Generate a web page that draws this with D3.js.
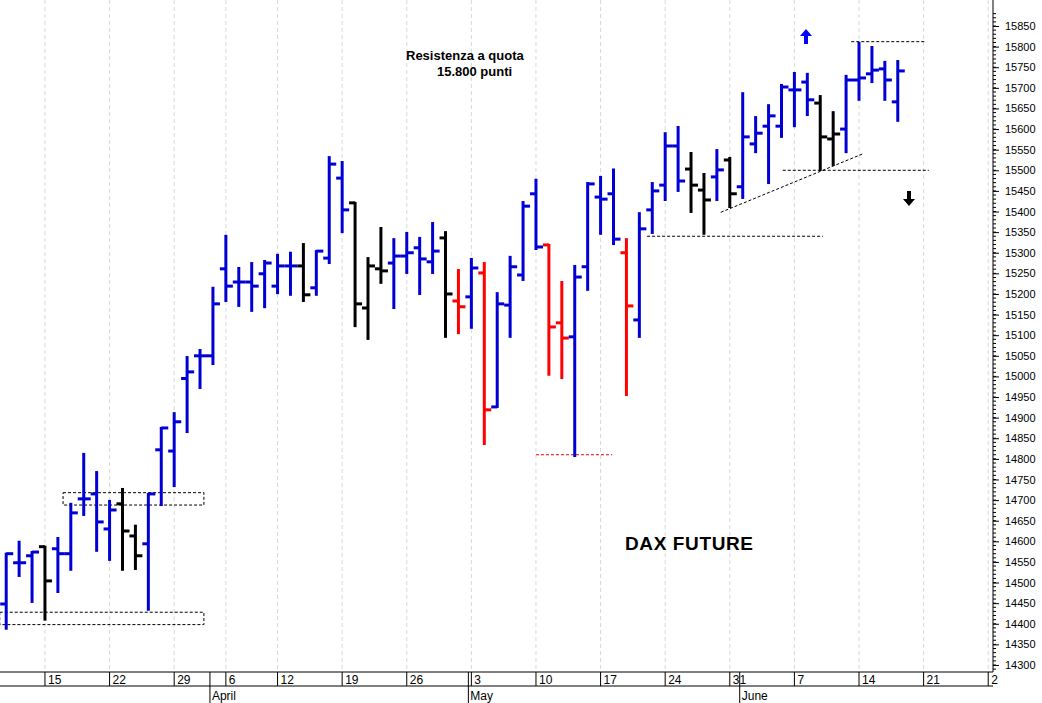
<!DOCTYPE html>
<html><head><meta charset="utf-8">
<script src="https://cdn.jsdelivr.net/npm/d3@7"></script>
<style>body{margin:0;background:#fff}svg{display:block;font-family:"Liberation Sans",Arial,sans-serif}</style>
</head><body><svg id="c" width="1042" height="703"></svg>
<script>
const dates=["03-10","03-11","03-12","03-15","03-16","03-17","03-18","03-19","03-22","03-23","03-24","03-25","03-26","03-29","03-30","03-31",
"04-01","04-06","04-07","04-08","04-09","04-12","04-13","04-14","04-15","04-16","04-19","04-20","04-21","04-22","04-23","04-26","04-27","04-28","04-29","04-30",
"05-03","05-04","05-05","05-06","05-07","05-10","05-11","05-12","05-13","05-14","05-17","05-18","05-19","05-20","05-21","05-24","05-25","05-26","05-27","05-28","05-31",
"06-01","06-02","06-03","06-04","06-07","06-08","06-09","06-10","06-11","06-14","06-15","06-16","06-17"];
const open=[14448,14548,14565,14587,14582,14570,14703,14715,14630,14691,14613,14594,14822,14819,14995,15050,15050,15261,15229,15229,15249,15219,15268,15268,15215,15287,15481,15421,15166,15261,15275,15292,15312,15278,15336,15183,15193,15251,14926,15173,15246,15443,15319,15130,15096,15266,15435,15443,15300,15137,15404,15464,15559,15503,15452,15484,15525,15460,15564,15607,15607,15695,15714,15663,15576,15600,15719,15734,15746,15666];
const high=[14570,14599,14574,14587,14608,14691,14812,14768,14698,14727,14638,14715,14875,14911,15047,15064,15215,15341,15263,15275,15280,15295,15300,15321,15304,15532,15520,15421,15287,15360,15333,15348,15336,15372,15350,15258,15285,15275,15202,15290,15423,15477,15319,15229,15268,15469,15484,15502,15333,15396,15469,15590,15605,15542,15491,15549,15530,15687,15629,15658,15707,15736,15734,15680,15641,15729,15809,15799,15763,15765];
const low=[14388,14516,14453,14410,14477,14531,14664,14577,14555,14531,14533,14434,14688,14734,14865,14972,15030,15183,15171,15159,15168,15202,15198,15183,15198,15275,15350,15122,15091,15227,15166,15251,15200,15251,15096,15105,15118,14836,14926,15096,15234,15309,15004,14996,14807,15210,15346,15321,14955,15096,15348,15428,15450,15399,15346,15428,15411,15433,15544,15469,15581,15607,15634,15501,15513,15544,15671,15714,15671,15620];
const close=[14570,14548,14574,14504,14570,14669,14703,14647,14676,14625,14565,14715,14875,14890,15011,15050,15176,15219,15229,15219,15275,15268,15268,15198,15304,15515,15404,15176,15268,15256,15292,15300,15285,15304,15200,15169,15263,14919,15176,15266,15413,15314,15120,15093,15241,15467,15430,15333,15171,15358,15450,15559,15474,15464,15428,15501,15443,15581,15590,15632,15702,15695,15671,15581,15588,15719,15724,15743,15719,15741];
const colorCode="bbbkbbbbbkkbbbbbbbbbbbbkbbbkkkbbbbkrbrbbbbrrbbbbrbbbbkkbkbbbbbbkkbbbbb";
const yTicks=d3.range(14300,15851,50);
const weekTicks=[3,8,13,17,21,26,31,36,41,46,51,56,61,66,71,76];
const weekLabels=["15","22","29","6","12","19","26","3","10","17","24","31","7","14","21","2"];
const monthStart=[16,36,57];
const monthLabels=["April","May","June"];

const svg=d3.select("#c");
const x=d3.scaleLinear().domain([-0.48,76.37]).range([0,993]);
const y=d3.scaleLinear().domain([14300,15850]).range([665,26]);
const col={b:"#0000d4",k:"#000",r:"#ff0000"};
svg.append("g").selectAll("line").data(weekTicks).join("line")
 .attr("x1",d=>x(d)).attr("x2",d=>x(d)).attr("y1",0).attr("y2",672)
 .attr("stroke","#d8d8d8").attr("stroke-dasharray","4,3");
const dash={stroke:"#000","stroke-dasharray":"3,2","stroke-width":1,fill:"none"};
function ln(x1,v1,x2,v2,c){const l=svg.append("line").attr("x1",x(x1)).attr("x2",x(x2)).attr("y1",y(v1)).attr("y2",y(v2));for(const k in dash)l.attr(k,dash[k]);if(c)l.attr("stroke",c);}
function rc(x1,x2,v1,v2){const r=svg.append("rect").attr("x",x(x1)).attr("width",x(x2)-x(x1)).attr("y",y(v1)).attr("height",y(v2)-y(v1));for(const k in dash)r.attr(k,dash[k]);}
rc(4.4,15.3,14718,14688);rc(-0.5,15.3,14428,14398);
ln(41,14810,46.9,14810,"#e00");
ln(49.6,15340,63.2,15340);
ln(60.1,15500,71.4,15500);
ln(65.4,15812,71.2,15812);
ln(55.3,15398,66.3,15540);
const g=svg.append("g");
dates.forEach((d,i)=>{
 const c=col[colorCode[i]],cx=x(i);
 g.append("line").attr("x1",cx).attr("x2",cx).attr("y1",y(high[i])-1).attr("y2",y(low[i])+1).attr("stroke",c).attr("stroke-width",3);
 g.append("line").attr("x1",cx-6).attr("x2",cx).attr("y1",y(open[i])).attr("y2",y(open[i])).attr("stroke",c).attr("stroke-width",3);
 g.append("line").attr("x1",cx).attr("x2",cx+7).attr("y1",y(close[i])).attr("y2",y(close[i])).attr("stroke",c).attr("stroke-width",3);
});
function arrow(cx,cy,up,c){const s=up?-1:1;
 svg.append("path").attr("d",`M${cx},${cy+8*s} L${cx-6},${cy+1*s} L${cx-2},${cy+1*s} L${cx-2},${cy-7*s} L${cx+2},${cy-7*s} L${cx+2},${cy+1*s} L${cx+6},${cy+1*s}Z`).attr("fill",c);}
arrow(806,37,true,"#0000ff");arrow(909,198,false,"#000");
svg.append("text").attr("x",406).attr("y",60).attr("font-size",13).attr("font-weight","bold").text("Resistenza a quota");
svg.append("text").attr("x",437).attr("y",76).attr("font-size",13).attr("font-weight","bold").text("15.800 punti");
svg.append("text").attr("x",625).attr("y",550).attr("font-size",19).attr("font-weight","bold").attr("textLength",128).text("DAX FUTURE");
svg.append("line").attr("x1",993).attr("x2",993).attr("y1",0).attr("y2",672).attr("stroke","#000");
const ya=svg.append("g").attr("transform","translate(993,0)").call(d3.axisRight(y).tickValues(yTicks).tickSize(6).tickFormat(d3.format("d")));
ya.select(".domain").remove();ya.selectAll("text").attr("font-size",11).attr("font-family","Liberation Sans, Arial").attr("x",12);
svg.append("g").selectAll("line").data(d3.range(14290,15881,10)).join("line")
 .attr("x1",993).attr("x2",996).attr("y1",d=>y(d)).attr("y2",d=>y(d)).attr("stroke","#000");
svg.append("line").attr("x1",0).attr("x2",993).attr("y1",672).attr("y2",672).attr("stroke","#000");
svg.append("line").attr("x1",0).attr("x2",993).attr("y1",686).attr("y2",686).attr("stroke","#000");
const wt=svg.append("g").selectAll("g").data(weekTicks).join("g").attr("transform",d=>`translate(${x(d)},0)`);
wt.append("line").attr("y1",672).attr("y2",686).attr("stroke","#000");
wt.append("text").attr("x",3).attr("y",684).attr("font-size",12).text((d,i)=>weekLabels[i]);
const mt=svg.append("g").selectAll("g").data(monthStart).join("g").attr("transform",d=>`translate(${x(d)-3},0)`);
mt.append("line").attr("y1",672).attr("y2",703).attr("stroke","#000");
mt.append("text").attr("x",2).attr("y",700).attr("font-size",12).text((d,i)=>monthLabels[i]);
</script></body></html>
